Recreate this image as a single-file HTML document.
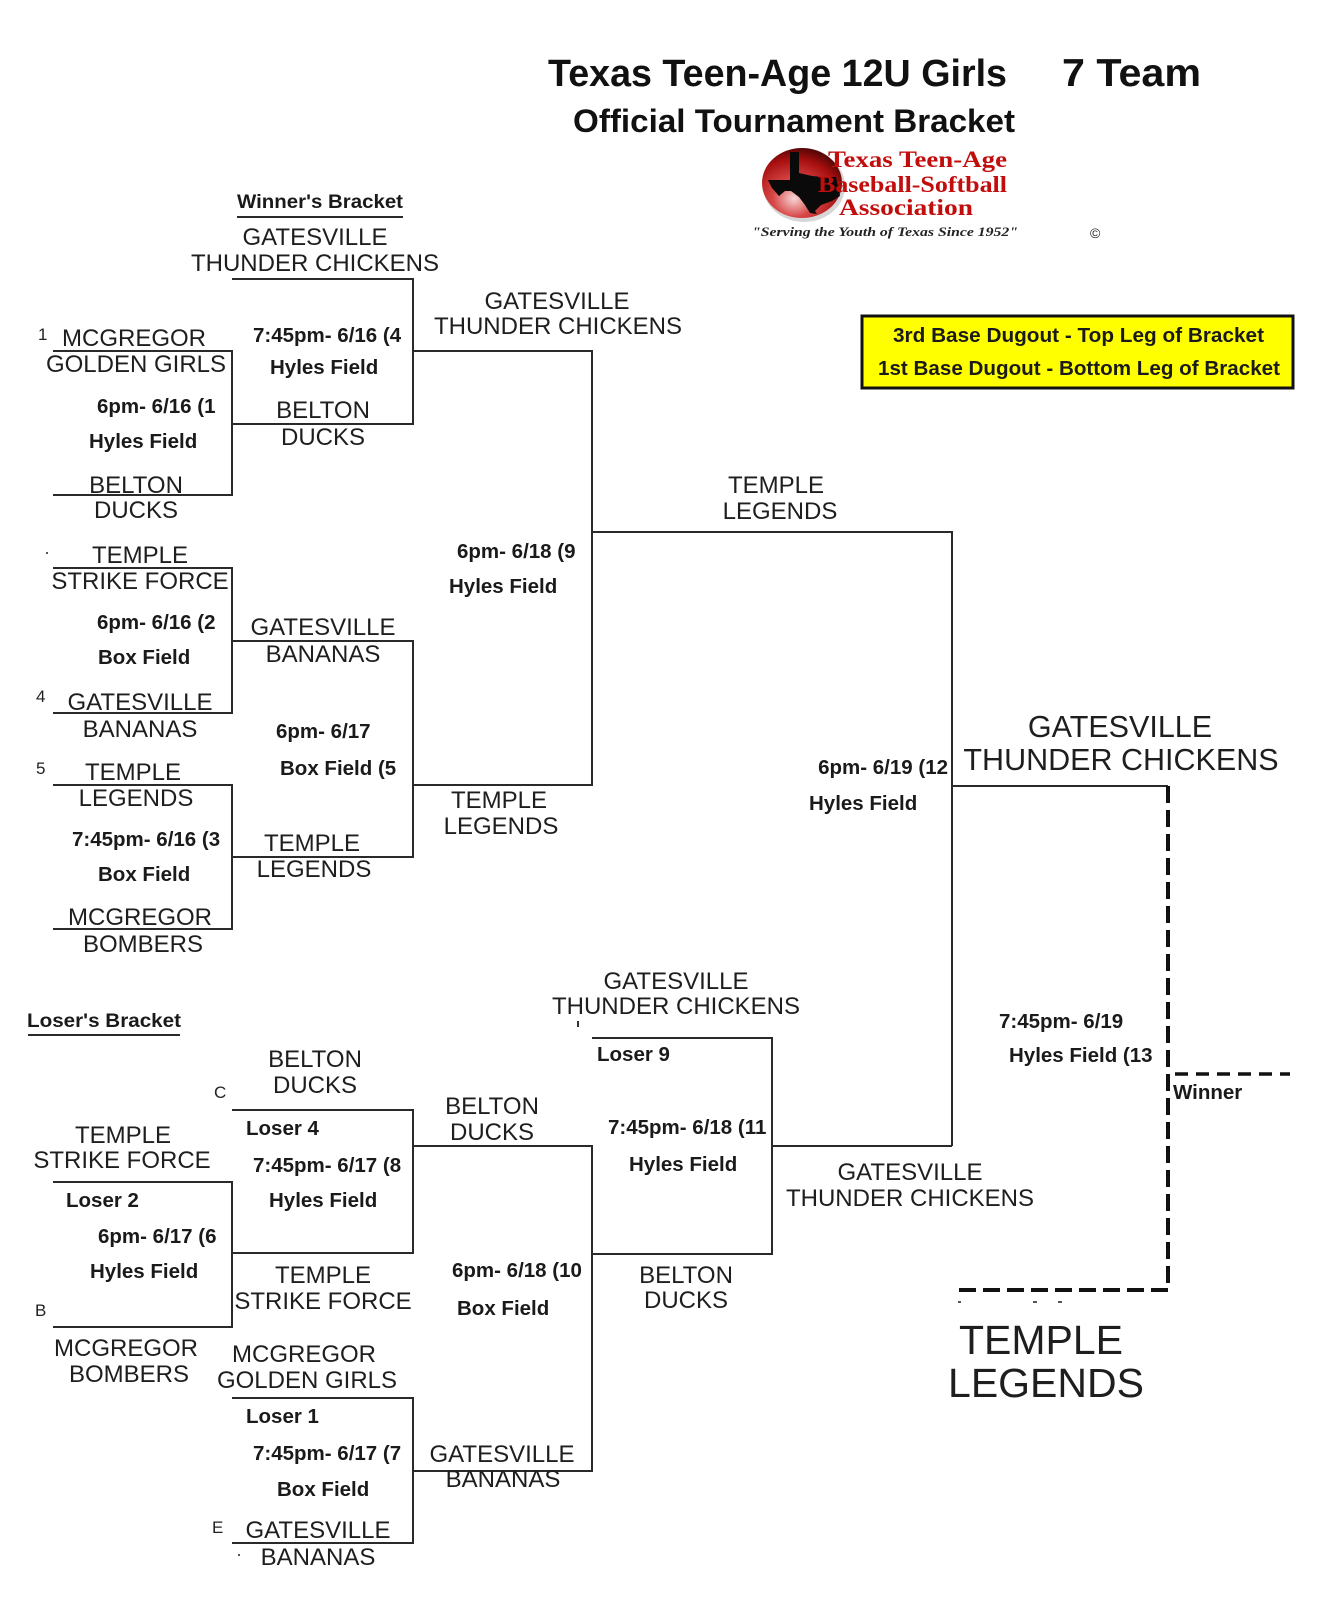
<!DOCTYPE html>
<html>
<head>
<meta charset="utf-8">
<style>
  html,body{margin:0;padding:0;background:#fff;}
  svg{display:block;}
  .t{font-family:"Liberation Sans",Arial,sans-serif;font-size:24px;fill:#1e1e1e;text-anchor:middle;}
  .b{font-family:"Liberation Sans",Arial,sans-serif;font-size:20.5px;font-weight:bold;fill:#1a1a1a;}
  .n{font-family:"Liberation Sans",Arial,sans-serif;font-size:17px;fill:#222;}
  .ln{fill:none;stroke:#2a2a2a;stroke-width:2;}
</style>
</head>
<body>
<svg width="1333" height="1600" viewBox="0 0 1333 1600" xmlns="http://www.w3.org/2000/svg">
  <defs>
    <radialGradient id="ball" cx="40%" cy="72%" r="75%">
      <stop offset="0" stop-color="#f6d6d6"/>
      <stop offset="0.35" stop-color="#d84848"/>
      <stop offset="0.75" stop-color="#a80f0f"/>
      <stop offset="1" stop-color="#4a0505"/>
    </radialGradient>
  </defs>

  <!-- Title -->
  <text x="548" y="86" font-family="Liberation Sans, Arial, sans-serif" font-size="38" font-weight="bold" fill="#111" textLength="459" lengthAdjust="spacingAndGlyphs">Texas Teen-Age 12U Girls</text>
  <text x="1062" y="86" font-family="Liberation Sans, Arial, sans-serif" font-size="39" font-weight="bold" fill="#111" textLength="139" lengthAdjust="spacingAndGlyphs">7 Team</text>
  <text x="573" y="132" font-family="Liberation Sans, Arial, sans-serif" font-size="32" font-weight="bold" fill="#111" textLength="442" lengthAdjust="spacingAndGlyphs">Official Tournament Bracket</text>

  <!-- Logo -->
  <ellipse cx="804" cy="186" rx="41" ry="36" fill="#bbb" opacity="0.6"/>
  <ellipse cx="802" cy="183" rx="40" ry="35" fill="url(#ball)"/>
  <polygon fill="#0a0a0a" points="790,152 799,152 799,173 812,176 823,177 836,177 838,186 840,196 832,201 821,205 815,211 817,214 810,213 805,205 799,197 791,191 785,191 779,196 772,188 768,180 790,180"/>
  <text x="828" y="167" font-family="Liberation Serif, serif" font-size="23" font-weight="bold" fill="#c20d0d" textLength="179" lengthAdjust="spacingAndGlyphs">Texas Teen-Age</text>
  <text x="818" y="192" font-family="Liberation Serif, serif" font-size="23" font-weight="bold" fill="#c20d0d" textLength="189" lengthAdjust="spacingAndGlyphs">Baseball-Softball</text>
  <text x="839" y="215" font-family="Liberation Serif, serif" font-size="23" font-weight="bold" fill="#c20d0d" textLength="134" lengthAdjust="spacingAndGlyphs">Association</text>
  <text x="752" y="236" font-family="Liberation Serif, serif" font-size="13" font-style="italic" font-weight="bold" fill="#222" textLength="266" lengthAdjust="spacingAndGlyphs">"Serving the Youth of Texas Since 1952"</text>
  <text x="1090" y="238" font-family="Liberation Sans, sans-serif" font-size="14" fill="#222">©</text>

  <!-- Yellow box -->
  <rect x="862" y="316" width="431" height="72" fill="#ffff00" stroke="#111" stroke-width="3"/>
  <text x="893" y="342" class="b" textLength="371" lengthAdjust="spacingAndGlyphs">3rd Base Dugout - Top Leg of Bracket</text>
  <text x="878" y="375" class="b" textLength="402" lengthAdjust="spacingAndGlyphs">1st Base Dugout - Bottom Leg of Bracket</text>

  <!-- Section headings -->
  <text x="237" y="208" font-family="Liberation Sans, Arial, sans-serif" font-size="19" font-weight="bold" fill="#1a1a1a" textLength="166" lengthAdjust="spacingAndGlyphs">Winner's Bracket</text>
  <path class="ln" d="M237,217 H403"/>
  <text x="27" y="1027" font-family="Liberation Sans, Arial, sans-serif" font-size="19" font-weight="bold" fill="#1a1a1a" textLength="154" lengthAdjust="spacingAndGlyphs">Loser's Bracket</text>
  <path class="ln" d="M28,1035 H180"/>

  <!-- Winner's bracket lines -->
  <path class="ln" d="M232,279 H413 V424 H232"/>
  <path class="ln" d="M413,351 H592 V785 H413"/>
  <path class="ln" d="M53,351 H232 V495 H53"/>
  <path class="ln" d="M53,568 H232 V713 H53"/>
  <path class="ln" d="M232,641 H413 V857 H232"/>
  <path class="ln" d="M53,785 H232 V929 H53"/>
  <path class="ln" d="M592,532 H952 V1146"/>
  <path class="ln" d="M952,786 H1168"/>

  <!-- Loser's bracket lines -->
  <path class="ln" d="M232,1110 H413 V1253 H232"/>
  <path class="ln" d="M53,1182 H232 V1327 H53"/>
  <path class="ln" d="M413,1146 H592 V1471 H413"/>
  <path class="ln" d="M232,1398 H413 V1543 H232"/>
  <path class="ln" d="M592,1038 H772 V1254 H592"/>
  <path class="ln" d="M772,1146 H952"/>

  <!-- Dashed championship -->
  <path d="M1168,786 V1290 H952" fill="none" stroke="#111" stroke-width="4" stroke-dasharray="17 7"/>
  <path d="M1175,1074 H1290" fill="none" stroke="#111" stroke-width="3.5" stroke-dasharray="13 8"/>

  <!-- tiny marks -->
  <rect x="46" y="552" width="2" height="2" fill="#555"/>
  <rect x="577" y="1021" width="2" height="6" fill="#333"/>
  <rect x="238" y="1554" width="2" height="2" fill="#555"/>
  <rect x="958" y="1301" width="3" height="2" fill="#555"/>
  <rect x="1033" y="1301" width="4" height="2" fill="#555"/>
  <rect x="1058" y="1301" width="4" height="2" fill="#555"/>

  <!-- Seed / slot letters -->
  <text x="38" y="340" class="n">1</text>
  <text x="36" y="702" class="n">4</text>
  <text x="36" y="774" class="n">5</text>
  <text x="214" y="1098" class="n">C</text>
  <text x="35" y="1316" class="n">B</text>
  <text x="212" y="1533" class="n">E</text>

  <!-- Winner's bracket team names -->
  <text class="t" x="315" y="245">GATESVILLE</text>
  <text class="t" x="315" y="271">THUNDER CHICKENS</text>
  <text class="t" x="134" y="346">MCGREGOR</text>
  <text class="t" x="136" y="372">GOLDEN GIRLS</text>
  <text class="t" x="136" y="493">BELTON</text>
  <text class="t" x="136" y="518">DUCKS</text>
  <text class="t" x="323" y="418">BELTON</text>
  <text class="t" x="323" y="445">DUCKS</text>
  <text class="t" x="557" y="309">GATESVILLE</text>
  <text class="t" x="558" y="334">THUNDER CHICKENS</text>
  <text class="t" x="140" y="563">TEMPLE</text>
  <text class="t" x="140" y="589">STRIKE FORCE</text>
  <text class="t" x="140" y="710">GATESVILLE</text>
  <text class="t" x="140" y="737">BANANAS</text>
  <text class="t" x="323" y="635">GATESVILLE</text>
  <text class="t" x="323" y="662">BANANAS</text>
  <text class="t" x="133" y="780">TEMPLE</text>
  <text class="t" x="136" y="806">LEGENDS</text>
  <text class="t" x="140" y="925">MCGREGOR</text>
  <text class="t" x="143" y="952">BOMBERS</text>
  <text class="t" x="312" y="851">TEMPLE</text>
  <text class="t" x="314" y="877">LEGENDS</text>
  <text class="t" x="499" y="808">TEMPLE</text>
  <text class="t" x="501" y="834">LEGENDS</text>
  <text class="t" x="776" y="493">TEMPLE</text>
  <text class="t" x="780" y="519">LEGENDS</text>
  <text class="t" x="1120" y="737" style="font-size:30.5px">GATESVILLE</text>
  <text class="t" x="1121" y="770" style="font-size:30.5px">THUNDER CHICKENS</text>

  <!-- Loser's bracket team names -->
  <text class="t" x="315" y="1067">BELTON</text>
  <text class="t" x="315" y="1093">DUCKS</text>
  <text class="t" x="123" y="1143">TEMPLE</text>
  <text class="t" x="122" y="1168">STRIKE FORCE</text>
  <text class="t" x="323" y="1283">TEMPLE</text>
  <text class="t" x="323" y="1309">STRIKE FORCE</text>
  <text class="t" x="126" y="1356">MCGREGOR</text>
  <text class="t" x="129" y="1382">BOMBERS</text>
  <text class="t" x="304" y="1362">MCGREGOR</text>
  <text class="t" x="307" y="1388">GOLDEN GIRLS</text>
  <text class="t" x="318" y="1538">GATESVILLE</text>
  <text class="t" x="318" y="1565">BANANAS</text>
  <text class="t" x="502" y="1462">GATESVILLE</text>
  <text class="t" x="503" y="1487">BANANAS</text>
  <text class="t" x="492" y="1114">BELTON</text>
  <text class="t" x="492" y="1140">DUCKS</text>
  <text class="t" x="676" y="989">GATESVILLE</text>
  <text class="t" x="676" y="1014">THUNDER CHICKENS</text>
  <text class="t" x="686" y="1283">BELTON</text>
  <text class="t" x="686" y="1308">DUCKS</text>
  <text class="t" x="910" y="1180">GATESVILLE</text>
  <text class="t" x="910" y="1206">THUNDER CHICKENS</text>
  <text class="t" x="1041" y="1354" style="font-size:41px">TEMPLE</text>
  <text class="t" x="1046" y="1397" style="font-size:41px">LEGENDS</text>

  <!-- Game labels (winner's) -->
  <text class="b" x="253" y="342">7:45pm- 6/16 (4</text>
  <text class="b" x="270" y="374">Hyles Field</text>
  <text class="b" x="97" y="413">6pm- 6/16 (1</text>
  <text class="b" x="89" y="448">Hyles Field</text>
  <text class="b" x="97" y="629">6pm- 6/16 (2</text>
  <text class="b" x="98" y="664">Box Field</text>
  <text class="b" x="276" y="738">6pm- 6/17</text>
  <text class="b" x="280" y="775">Box Field (5</text>
  <text class="b" x="72" y="846">7:45pm- 6/16 (3</text>
  <text class="b" x="98" y="881">Box Field</text>
  <text class="b" x="457" y="558">6pm- 6/18 (9</text>
  <text class="b" x="449" y="593">Hyles Field</text>
  <text class="b" x="948" y="774" text-anchor="end">6pm- 6/19 (12</text>
  <text class="b" x="809" y="810">Hyles Field</text>

  <!-- Game labels (loser's) -->
  <text class="b" x="246" y="1135">Loser 4</text>
  <text class="b" x="253" y="1172">7:45pm- 6/17 (8</text>
  <text class="b" x="269" y="1207">Hyles Field</text>
  <text class="b" x="66" y="1207">Loser 2</text>
  <text class="b" x="98" y="1243">6pm- 6/17 (6</text>
  <text class="b" x="90" y="1278">Hyles Field</text>
  <text class="b" x="597" y="1061">Loser 9</text>
  <text class="b" x="608" y="1134">7:45pm- 6/18 (11</text>
  <text class="b" x="629" y="1171">Hyles Field</text>
  <text class="b" x="452" y="1277">6pm- 6/18 (10</text>
  <text class="b" x="457" y="1315">Box Field</text>
  <text class="b" x="246" y="1423">Loser 1</text>
  <text class="b" x="253" y="1460">7:45pm- 6/17 (7</text>
  <text class="b" x="277" y="1496">Box Field</text>
  <text class="b" x="999" y="1028">7:45pm- 6/19</text>
  <text class="b" x="1009" y="1062">Hyles Field (13</text>
  <text class="b" x="1173" y="1099">Winner</text>
</svg>
</body>
</html>
